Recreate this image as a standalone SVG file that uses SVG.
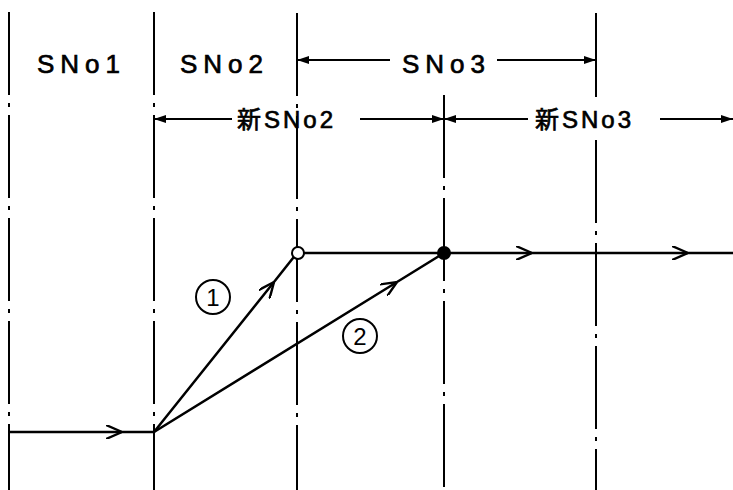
<svg xmlns="http://www.w3.org/2000/svg" width="733" height="490" viewBox="0 0 733 490">
<style>
.grid{stroke:#000;stroke-width:2;fill:none;stroke-dasharray:83 8 4 8}
.solid{stroke:#000;stroke-width:2;fill:none}
.flow{stroke:#000;stroke-width:2.5;fill:none}
.dim{stroke:#000;stroke-width:2;fill:none}
.lbl{font-family:"Liberation Sans","Noto Sans CJK JP",sans-serif;font-size:26px;fill:#000;stroke:#000;stroke-width:0.7;letter-spacing:6px}
.lbl2{font-family:"Liberation Sans","Noto Sans CJK JP",sans-serif;font-size:24px;fill:#000;stroke:#000;stroke-width:0.7;letter-spacing:3px}
.num{font-family:"Liberation Sans",sans-serif;font-size:24px;fill:#000;text-anchor:middle}
</style>
<defs>
<marker id="chev" viewBox="0 0 16 14" refX="16" refY="7" markerWidth="16" markerHeight="14" markerUnits="userSpaceOnUse" orient="auto">
<path d="M0,0 L16,7 L0,14" fill="none" stroke="#000" stroke-width="2.4"/>
</marker>
<marker id="tri" viewBox="0 0 12 8" refX="12" refY="4" markerWidth="12" markerHeight="8" markerUnits="userSpaceOnUse" orient="auto-start-reverse">
<path d="M0,0 L12,4 L0,8 Z" fill="#000"/>
</marker>
</defs>
<g id="gridlines">
<path class="grid" d="M9,12 V432"/>
<path class="grid" d="M154,12 V432"/>
<path class="grid" d="M297,13 V490"/>
<path class="grid" d="M444,95 V490"/>
<path class="solid" d="M596,13 V97"/>
<path class="grid" d="M596,140 V490"/>
<path class="solid" d="M9,432 V490"/>
<path class="solid" d="M154,432 V490"/>
</g>
<g id="labels">
<g id="sno1"><text class="lbl" x="37" y="73">SNo1</text></g>
<g id="sno2"><text class="lbl" x="180" y="73">SNo2</text></g>
<g id="sno3">
<path class="dim" d="M297,60 H390" marker-start="url(#tri)"/>
<path class="dim" d="M497,60 H596" marker-end="url(#tri)"/>
<text class="lbl" x="402" y="73">SNo3</text>
</g>
<g id="new-sno2">
<path class="dim" d="M154,119 H232" marker-start="url(#tri)"/>
<path class="dim" d="M360,119 H444" marker-end="url(#tri)"/>
<text class="lbl2" x="237" y="128">新SNo2</text>
</g>
<g id="new-sno3">
<path class="dim" d="M444,119 H528" marker-start="url(#tri)"/>
<path class="dim" d="M660,119 H733" marker-end="url(#tri)"/>
<text class="lbl2" x="535" y="128">新SNo3</text>
</g>
</g>
<g id="connectors">
<path class="flow" d="M9,432 L122,432 L154,432" marker-mid="url(#chev)"/>
<path class="flow" d="M154,432 L274,282 L297,253" marker-mid="url(#chev)" stroke-width="2"/>
<path class="flow" d="M154,432 L397,282 L444,253" marker-mid="url(#chev)" stroke-width="2"/>
<path class="flow" d="M303,253 L532,253 L688,253 L733,253" marker-mid="url(#chev)" stroke-width="3"/>
</g>
<g id="node-open"><circle cx="298" cy="253" r="6" fill="#fff" stroke="#000" stroke-width="2"/></g>
<g id="node-filled"><circle cx="444" cy="253" r="7" fill="#000"/></g>
<g id="route1"><circle cx="213" cy="297" r="17" fill="none" stroke="#000" stroke-width="2"/><text class="num" x="213" y="305.5">1</text></g>
<g id="route2"><circle cx="360" cy="336" r="17" fill="none" stroke="#000" stroke-width="2"/><text class="num" x="360" y="344.5">2</text></g>
</svg>
